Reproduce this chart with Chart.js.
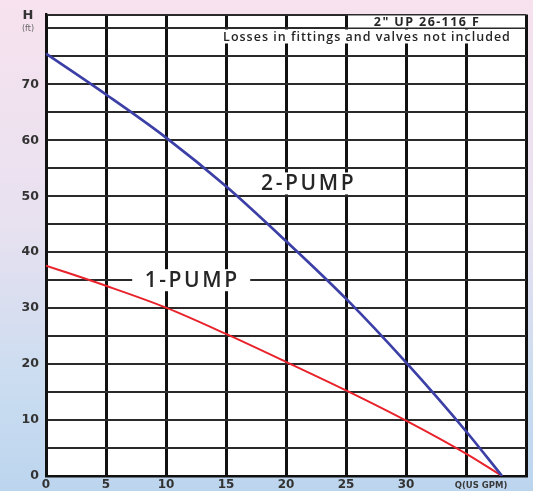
<!DOCTYPE html>
<html>
<head>
<meta charset="utf-8">
<script src="https://cdn.jsdelivr.net/npm/chart.js@4/dist/chart.umd.min.js"></script>
<style>
  html, body { margin: 0; padding: 0; }
  body {
    width: 533px; height: 491px; overflow: hidden;
    background: linear-gradient(to bottom, #f7e2ee 0%, #e8e1f0 45%, #c9dcf0 80%, #bcd5ee 100%);
  }
  #wrap { position: relative; width: 533px; height: 491px; }
</style>
</head>
<body>
<div id="wrap"><canvas id="pump-chart" width="533" height="491"></canvas></div>
<script>
// flow Q (US GPM) and head H (ft)
let flow = [0, 5, 10, 15, 20, 25, 30, 35, 38];
let head_two_pump = [75.5, 68.2, 60.5, 51.8, 42, 31.7, 20.3, 8, 0];
let head_one_pump = [37.6, 34, 30.1, 25.4, 20.4, 15.3, 9.9, 4, 0];

let x_ticks = [0, 5, 10, 15, 20, 25, 30];
let y_ticks = [0, 10, 20, 30, 40, 50, 60, 70];

let title_text = '2" UP 26-116 F';
let note_text = 'Losses in fittings and valves not included';

let colors = {
    two_pump: "#3b3fa6",
    one_pump: "#e8232c",
    grid_v: "#111111",
    grid_h: "#2a2a2a",
    label: "#262626"
}

function toPoints(xs, ys) {
    return xs.map((x, i) => ({x: x, y: ys[i]}));
}

// white boxes with text, drawn over the grid (like the printed curve sheet)
let annotations = {
    id: 'annotations',
    afterDatasetsDraw(chart) {
        let ctx = chart.ctx;
        let xs = chart.scales.x, ys = chart.scales.y;
        let area = chart.chartArea;
        ctx.save();

        // title row, top right
        let tx0 = xs.getPixelForValue(25) + 2;
        ctx.fillStyle = '#ffffff';
        ctx.fillRect(tx0, area.top + 1, area.right - tx0 - 1, ys.getPixelForValue(80) - area.top - 2);
        ctx.fillStyle = colors.label;
        ctx.font = 'bold 12.5px "Open Sans"';
        ctx.letterSpacing = '1.4px';
        ctx.textAlign = 'center';
        ctx.textBaseline = 'middle';
        ctx.fillText(title_text, 427, (area.top + ys.getPixelForValue(80)) / 2 + 0.5);

        // note row
        let ny0 = ys.getPixelForValue(80) + 1;
        ctx.fillStyle = '#ffffff';
        ctx.fillRect(214, ny0, area.right - 214 - 1, 14);
        ctx.fillStyle = colors.label;
        ctx.font = '600 12.5px "Open Sans"';
        ctx.letterSpacing = '1px';
        ctx.fillText(note_text, 367, ny0 + 7.5);

        // curve labels
        ctx.font = '600 21px "Open Sans"';
        ctx.letterSpacing = '2.6px';
        let labels = [
            {text: '1-PUMP', q: 12.1, h: 35, w: 118},
            {text: '2-PUMP', q: 21.8, h: 52.3, w: 112}
        ];
        labels.forEach(l => {
            let cx = xs.getPixelForValue(l.q), cy = ys.getPixelForValue(l.h);
            ctx.fillStyle = '#ffffff';
            ctx.fillRect(cx - l.w / 2, cy - 11, l.w, 22);
            ctx.fillStyle = colors.label;
            ctx.fillText(l.text, cx + 1, cy + 1);
        });

        // axis captions
        ctx.letterSpacing = '0px';
        ctx.fillStyle = '#333333';
        ctx.font = 'bold 13px "DejaVu Sans"';
        ctx.fillText('H', 28, 16);
        ctx.font = '8px "DejaVu Sans"';
        ctx.fillStyle = '#666666';
        ctx.fillText('(ft)', 28, 29);
        ctx.font = 'bold 8.5px "DejaVu Sans"';
        ctx.fillStyle = '#3a3a3a';
        ctx.fillText('Q(US GPM)', 481, area.bottom + 10);
        ctx.restore();
    }
}

let plotBackground = {
    id: 'plotBackground',
    beforeDraw(chart) {
        let a = chart.chartArea;
        chart.ctx.save();
        chart.ctx.fillStyle = '#ffffff';
        chart.ctx.fillRect(a.left, a.top, a.right - a.left, a.bottom - a.top);
        chart.ctx.restore();
    }
}

let data = {
    datasets: [
        {
            label: '2-PUMP',
            data: toPoints(flow, head_two_pump),
            borderColor: colors.two_pump,
            borderWidth: 2.7,
            pointRadius: 0,
            cubicInterpolationMode: 'monotone',
            fill: false
        },
        {
            label: '1-PUMP',
            data: toPoints(flow, head_one_pump),
            borderColor: colors.one_pump,
            borderWidth: 2,
            pointRadius: 0,
            cubicInterpolationMode: 'monotone',
            fill: false
        }
    ]
}

let options = {
    responsive: false,
    animation: false,
    layout: {padding: {top: 10, right: 7, left: 0, bottom: 0}},
    plugins: {
        legend: {display: false},
        tooltip: {enabled: false}
    },
    scales: {
        x: {
            type: 'linear',
            min: 0,
            max: 40,
            afterFit: scale => { scale.height = 15; },
            afterBuildTicks: scale => { scale.ticks = [0, 5, 10, 15, 20, 25, 30, 35, 40].map(v => ({value: v})); },
            grid: {color: colors.grid_v, lineWidth: 3, drawTicks: false},
            border: {color: colors.grid_v, width: 2.4},
            ticks: {
                padding: 2,
                color: '#333333',
                font: {family: 'DejaVu Sans', size: 12, weight: 'bold'},
                callback: value => x_ticks.includes(value) ? String(value) : ''
            }
        },
        y: {
            type: 'linear',
            min: 0,
            max: 82.5,
            afterFit: scale => { scale.width = 46; },
            afterBuildTicks: scale => {
                let t = [];
                for (let v = 0; v <= 80; v += 5) t.push({value: v});
                t.push({value: 82.5});
                scale.ticks = t;
            },
            grid: {color: colors.grid_h, lineWidth: 2, drawTicks: false},
            border: {color: colors.grid_v, width: 2.4},
            ticks: {
                padding: 7,
                color: '#333333',
                font: {family: 'DejaVu Sans', size: 12.5, weight: 'bold'},
                callback: value => y_ticks.includes(value) ? String(value) : ''
            }
        }
    }
}

let config = {
    type: 'line',
    data: data,
    options: options,
    plugins: [plotBackground, annotations]
}

window.pumpChart = new Chart(document.getElementById('pump-chart').getContext('2d'), config);
</script>
</body>
</html>
